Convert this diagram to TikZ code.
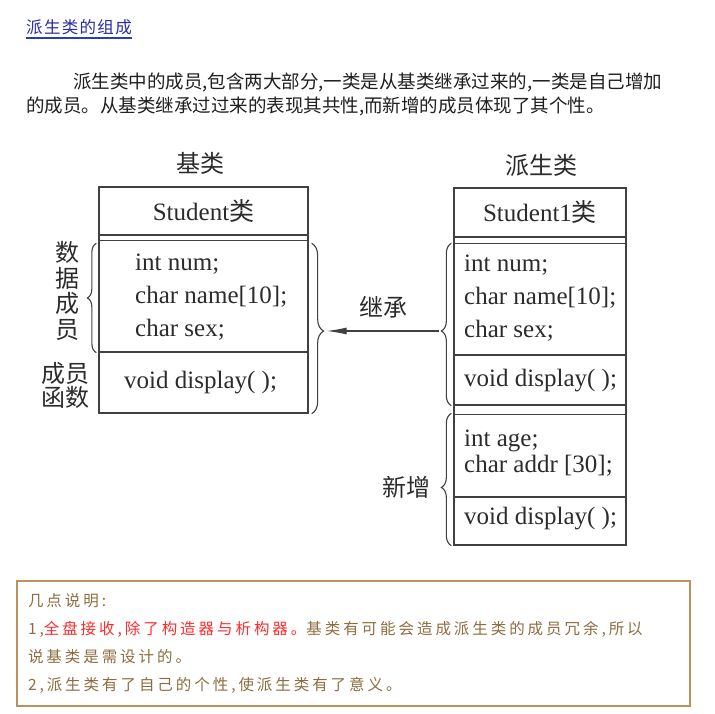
\documentclass[tikz,border=0pt]{standalone}
\usepackage{fontspec}
\setmainfont{Liberation Serif}
\newfontfamily\cjk{Noto Sans CJK SC}
\newfontfamily\notefont[LetterSpace=19]{Noto Sans CJK SC}
\newfontfamily\titlefont[LetterSpace=8]{Noto Sans CJK SC}
\usepackage{tikz}
\usetikzlibrary{arrows.meta,positioning,decorations.pathreplacing}
\definecolor{boxgray}{HTML}{404040}
\definecolor{inkgray}{HTML}{2B2B2B}
\definecolor{titleblue}{HTML}{2A2AA8}
\definecolor{lineblue}{HTML}{2040C0}
\definecolor{notebrown}{HTML}{8C6D3F}
\definecolor{noteframe}{HTML}{B9925E}
\definecolor{notered}{HTML}{FF2A2A}
\tikzset{
	cell/.style={draw=boxgray,line width=1.3pt,inner sep=0pt,text=inkgray,font=\fontsize{25}{33}\selectfont},
	code/.style={anchor=west,align=left,inner sep=0pt,text=inkgray,font=\fontsize{25}{33}\selectfont},
	lab/.style={inner sep=0pt,text=inkgray,align=center,font=\cjk\fontsize{24}{25.5}\selectfont},
	brc/.style={draw=boxgray,line width=1.1pt,decorate,decoration={brace,amplitude=#1}},
	brc/.default=10pt,
}
\begin{document}
\begin{tikzpicture}[x=1pt,y=-1pt]
	\useasboundingbox (0,0) rectangle (715,714);
	% heading and intro text
	\node[anchor=west,inner xsep=0pt,inner ysep=3pt,text=titleblue,font=\titlefont\fontsize{16.5}{18}\selectfont] (title) at (26,27) {派生类的组成};
	\draw[lineblue,line width=1.4pt] (title.south west) -- (title.south east);
	\node[anchor=west,align=left,inner sep=0pt,text=black!88,font=\cjk\fontsize{18.5}{24}\selectfont] (intro) at (26,94) {\hspace*{47pt}派生类中的成员,包含两大部分,一类是从基类继承过来的,一类是自己增加\\的成员。从基类继承过过来的表现其共性,而新增的成员体现了其个性。};

	% base class
	\begin{scope}[every node/.append style={minimum width=209pt}]
		\node[cell,minimum height=48pt] (Lhead) at (203.5,211) {Student{\cjk 类}};
		\node[cell,minimum height=117pt] (Ldata) at (203.5,293.5) {};
		\node[cell,minimum height=61pt] (Lfunc) at (203.5,382.5) {};
	\end{scope}
	\draw[cell] ([yshift=-5pt]Lhead.south west) -- ([yshift=-5pt]Lhead.south east);
	\node[code] (Ldtxt) at (135,297) {int num;\\char name[10];\\char sex;};
	\node[code] (Lftxt) at (124,383) {void display( );};
	\node[lab] (Lname) at (200,163) {基类};

	% derived class
	\begin{scope}[every node/.append style={minimum width=172pt}]
		\node[cell,minimum height=49pt] (Rhead) at (540,212.5) {Student1{\cjk 类}};
		\node[cell,minimum height=118pt] (Rdata) at (540,296) {};
		\node[cell,minimum height=50pt] (Rfunc) at (540,380) {};
		\node[cell,minimum height=92pt] (Rnew) at (540,451) {};
		\node[cell,minimum height=48pt] (Rnfunc) at (540,521) {};
	\end{scope}
	\draw[cell] ([yshift=-6pt]Rhead.south west) -- ([yshift=-6pt]Rhead.south east);
	\draw[cell] ([yshift=-9pt]Rfunc.south west) -- ([yshift=-9pt]Rfunc.south east);
	\node[code] (Rdtxt) at (464,298.5) {int num;\\char name[10];\\char sex;};
	\node[code] (Rftxt) at (464,381) {void display( );};
	\node[code,font=\fontsize{25}{26}\selectfont] (Rntxt) at (464,453) {int age;\\char addr [30];};
	\node[code] (Rnftxt) at (464,519) {void display( );};
	\node[lab] (Rname) at (541,165) {派生类};

	% braces
	\draw[brc=9pt] ([xshift=-2pt]Ldata.south west) -- ([xshift=-2pt,yshift=-9pt]Ldata.north west);
	\draw[brc=12pt,decoration={aspect=0.515}] ([xshift=3pt,yshift=-9pt]Ldata.north east) -- coordinate[pos=0.515,xshift=15pt] (Ltip) ([xshift=3pt]Lfunc.south east);
	\draw[brc,decoration={aspect=0.46}] ([xshift=-2pt]Rfunc.south west) -- coordinate[pos=0.46,xshift=-12pt] (Rtip) ([xshift=-2pt,yshift=-7pt]Rdata.north west);
	\draw[brc,decoration={aspect=0.44}] ([xshift=-2pt]Rnfunc.south west) -- coordinate[pos=0.44,xshift=-12pt] (Ntip) ([xshift=-2pt,yshift=-9pt]Rnew.north west);

	\node[lab] (datalab) at (67,291) {数\\据\\成\\员};
	\node[lab,font=\cjk\fontsize{24}{24}\selectfont] (funclab) at (65,385) {成员\\函数};
	\node[lab,left=9pt of Ntip] (newlab) {新增};

	% inheritance arrow
	\draw[boxgray,line width=1.1pt,-{Latex[length=20pt,width=7pt]}] (Rtip) -- node[lab,above=12pt] (inhlab) {继承} (Rtip -| Ltip);

	% notes
	\node[draw=noteframe,line width=1.2pt,minimum width=673pt,minimum height=125pt,inner xsep=11pt,text width=651pt,align=left,text=notebrown,font=\notefont\fontsize{15.5}{27.7}\selectfont] (notes) at (353.5,643.5) {几点说明:\\1,{\color{notered}全盘接收,除了构造器与析构器。}基类有可能会造成派生类的成员冗余,所以\\说基类是需设计的。\\2,派生类有了自己的个性,使派生类有了意义。};
\end{tikzpicture}
\end{document}
